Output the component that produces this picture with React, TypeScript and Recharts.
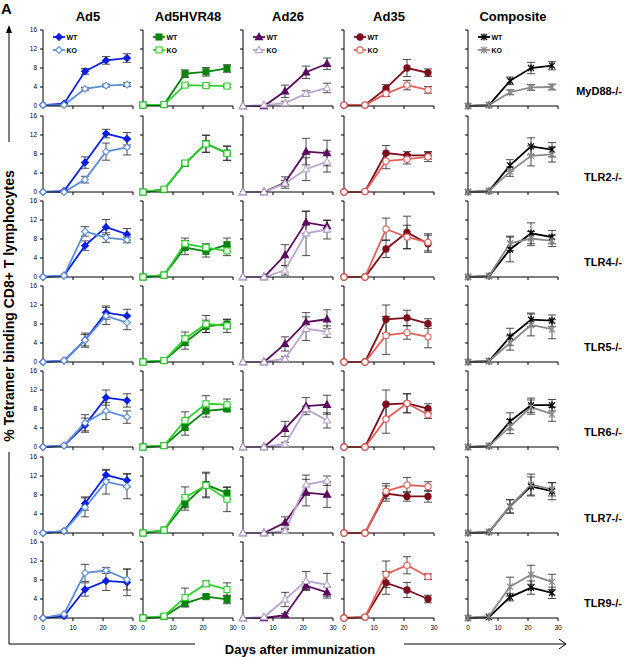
import { LineChart, Line, XAxis, YAxis, ErrorBar } from 'recharts'

const vectors = ['Ad5', 'Ad5HVR48', 'Ad26', 'Ad35', 'Composite']
const knockouts = ['MyD88-/-', 'TLR2-/-', 'TLR4-/-', 'TLR5-/-', 'TLR6-/-', 'TLR7-/-', 'TLR9-/-']
const days = [0, 7, 14, 21, 28]
const xTicks = [0, 10, 20, 30]
const yTicks = [0, 4, 8, 12, 16]

// one row per knockout (same order as `knockouts`), one value per day
const ad5WT = [
  [0.2, 0.5, 7.3, 9.6, 10.1],
  [0, 0.2, 6.2, 12.3, 11.2],
  [0, 0.3, 6.6, 10.5, 9.0],
  [0, 0.3, 4.6, 10.4, 9.7],
  [0, 0.3, 4.6, 10.4, 9.8],
  [0, 0.4, 6.2, 12.2, 11.1],
  [0, 0.4, 6.0, 7.8, 7.5],
]
const ad5WTErr = [
  [0, 0, 0.6, 0.8, 0.9],
  [0, 0, 1.2, 0.9, 1.3],
  [0, 0, 1.0, 1.6, 1.2],
  [0, 0, 1.2, 1.4, 1.4],
  [0, 0, 1.5, 1.6, 1.4],
  [0, 0, 1.4, 1.0, 1.4],
  [0, 0, 1.4, 2.0, 2.8],
]
const ad5KO = [
  [0.2, 0.2, 3.6, 4.3, 4.5],
  [0, 0, 2.6, 8.5, 9.4],
  [0, 0.3, 9.6, 8.3, 7.8],
  [0, 0.3, 4.6, 9.7, 8.3],
  [0, 0.3, 5.1, 7.6, 6.3],
  [0, 0.4, 5.4, 10.8, 9.8],
  [0, 0.8, 9.5, 10.0, 8.1],
]
const ad5KOErr = [
  [0, 0, 0.3, 0.3, 0.4],
  [0, 0, 0.7, 1.8, 1.6],
  [0, 0, 1.0, 1.0, 0.6],
  [0, 0, 1.5, 1.8, 1.5],
  [0, 0, 1.7, 1.8, 1.3],
  [0, 0, 2.0, 2.6, 2.6],
  [0, 0, 1.8, 0.6, 2.2],
]
const hvrWT = [
  [0.2, 0.3, 6.8, 7.2, 7.9],
  [0, 0.5, 6.0, 10.2, 8.2],
  [0, 0.4, 6.2, 5.4, 6.8],
  [0, 0.3, 4.1, 7.5, 8.0],
  [0, 0.3, 4.1, 7.6, 8.0],
  [0, 0.6, 6.2, 10.2, 8.4],
  [0, 0.3, 3.1, 4.5, 3.9],
]
const hvrWTErr = [
  [0, 0, 0.8, 0.9, 0.8],
  [0, 0, 0.5, 1.8, 1.5],
  [0, 0, 1.5, 1.2, 1.4],
  [0, 0, 1.4, 1.3, 1.0],
  [0, 0, 1.6, 1.3, 0.4],
  [0, 0, 1.4, 2.6, 1.2],
  [0, 0, 0.6, 0.4, 0.9],
]
const hvrKO = [
  [0.2, 0.3, 4.4, 4.3, 4.2],
  [0, 0.6, 6.1, 10.1, 8.1],
  [0, 0.4, 7.0, 6.2, 5.5],
  [0, 0.3, 4.9, 8.0, 7.6],
  [0, 0.3, 5.6, 9.1, 8.9],
  [0, 0.6, 7.5, 10.0, 7.1],
  [0, 0.4, 4.3, 7.2, 6.0],
]
const hvrKOErr = [
  [0, 0, 0.3, 0.3, 0.3],
  [0, 0, 0.5, 1.8, 1.5],
  [0, 0, 1.2, 0.8, 1.0],
  [0, 0, 1.4, 1.8, 1.4],
  [0, 0, 1.8, 1.7, 1.2],
  [0, 0, 2.2, 2.6, 2.6],
  [0, 0, 2.0, 0.6, 1.4],
]
const ad26WT = [
  [0, 0, 3.1, 7.1, 8.9],
  [0, 0, 2.0, 8.5, 8.2],
  [0, 0, 4.6, 11.5, 10.7],
  [0, 0, 3.8, 8.4, 9.0],
  [0, 0, 3.8, 8.6, 8.9],
  [0, 0, 2.2, 8.5, 8.1],
  [0, 0, 0.6, 6.8, 5.4],
]
const ad26WTErr = [
  [0, 0, 1.3, 1.3, 1.2],
  [0, 0, 1.2, 2.8, 2.7],
  [0, 0, 2.2, 2.3, 1.2],
  [0, 0, 1.5, 2.0, 2.0],
  [0, 0, 1.6, 1.8, 2.0],
  [0, 0, 1.2, 2.8, 2.7],
  [0, 0, 0.4, 0.8, 1.2],
]
const ad26KO = [
  [0, 0.2, 0.6, 2.6, 3.8],
  [0, 0, 1.8, 4.8, 6.4],
  [0, 0, 1.4, 9.2, 10.0],
  [0, 0, 0.7, 7.0, 6.4],
  [0, 0, 0.6, 8.0, 5.6],
  [0, 0, 0.4, 10.2, 11.0],
  [0, 0.2, 3.9, 7.8, 7.0],
]
const ad26KOErr = [
  [0, 0, 0.4, 0.6, 1.0],
  [0, 0, 0.6, 2.4, 2.2],
  [0, 0, 1.0, 4.7, 2.0],
  [0, 0, 0.4, 2.5, 1.2],
  [0, 0, 0.4, 0.6, 1.6],
  [0, 0, 0.3, 2.0, 1.0],
  [0, 0, 1.5, 2.0, 2.4],
]
const ad35WT = [
  [0.2, 0.2, 3.7, 8.0, 7.0],
  [0, 0.1, 8.2, 7.7, 7.7],
  [0, 0, 5.9, 9.4, 7.0],
  [0, 0, 9.0, 9.3, 8.1],
  [0, 0, 9.0, 9.2, 8.1],
  [0, 0, 8.3, 7.7, 7.7],
  [0, 0.2, 7.4, 5.9, 4.0],
]
const ad35WTErr = [
  [0, 0, 0.8, 1.8, 0.8],
  [0, 0, 1.6, 0.8, 0.8],
  [0, 0, 1.8, 3.4, 1.8],
  [0, 0, 3.0, 1.6, 1.0],
  [0, 0, 3.0, 2.0, 1.0],
  [0, 0, 1.6, 1.0, 1.2],
  [0, 0, 2.4, 1.6, 0.8],
]
const ad35KO = [
  [0.2, 0.2, 2.6, 4.4, 3.4],
  [0, 0.1, 6.5, 6.9, 7.4],
  [0, 0, 10.1, 8.4, 7.3],
  [0, 0, 5.6, 6.2, 5.3],
  [0, 0, 5.9, 9.2, 6.8],
  [0, 0, 8.8, 10.1, 9.8],
  [0, 0.2, 9.2, 11.1, 8.7],
]
const ad35KOErr = [
  [0, 0, 0.6, 1.0, 0.7],
  [0, 0, 1.6, 1.0, 1.0],
  [0, 0, 2.3, 2.5, 1.8],
  [0, 0, 4.0, 1.4, 2.3],
  [0, 0, 3.0, 2.0, 0.8],
  [0, 0, 1.6, 1.6, 1.0],
  [0, 0, 2.8, 1.8, 0.6],
]
const compWT = [
  [0, 0.2, 5.3, 8.0, 8.5],
  [0, 0.2, 5.6, 9.6, 8.9],
  [0, 0.2, 5.8, 9.2, 8.4],
  [0, 0.2, 5.3, 8.9, 8.7],
  [0, 0.2, 5.4, 8.8, 8.8],
  [0, 0.2, 5.6, 9.8, 8.8],
  [0, 0.2, 4.4, 6.4, 5.3],
]
const compWTErr = [
  [0, 0, 0.8, 1.2, 0.9],
  [0, 0, 1.2, 1.8, 1.5],
  [0, 0, 2.6, 2.2, 1.4],
  [0, 0, 1.8, 1.4, 1.2],
  [0, 0, 1.8, 1.5, 1.2],
  [0, 0, 1.4, 2.0, 1.8],
  [0, 0, 0.8, 1.4, 1.2],
]
const compKO = [
  [0, 0.2, 2.9, 3.9, 4.0],
  [0, 0.2, 4.3, 7.6, 7.9],
  [0, 0.2, 7.1, 8.1, 7.6],
  [0, 0.2, 4.0, 7.8, 6.9],
  [0, 0.2, 4.3, 8.4, 6.9],
  [0, 0.2, 5.6, 10.2, 9.2],
  [0, 0.4, 6.6, 9.1, 7.6],
]
const compKOErr = [
  [0, 0, 0.5, 0.6, 0.6],
  [0, 0, 1.0, 2.1, 1.6],
  [0, 0, 1.5, 1.5, 1.2],
  [0, 0, 1.5, 2.3, 2.0],
  [0, 0, 1.5, 1.5, 1.5],
  [0, 0, 1.4, 2.2, 1.4],
  [0, 0, 2.0, 2.0, 1.6],
]

const FONT = '"Liberation Sans", Arial, sans-serif'

const series = [
  { wt: ad5WT, wtErr: ad5WTErr, ko: ad5KO, koErr: ad5KOErr, wtColor: '#0a1fe0', koColor: '#5b8dd6', shape: 'diamond' },
  { wt: hvrWT, wtErr: hvrWTErr, ko: hvrKO, koErr: hvrKOErr, wtColor: '#0b840f', koColor: '#2fd12f', shape: 'square' },
  { wt: ad26WT, wtErr: ad26WTErr, ko: ad26KO, koErr: ad26KOErr, wtColor: '#5a0b5e', koColor: '#b8a5d0', shape: 'triangle' },
  { wt: ad35WT, wtErr: ad35WTErr, ko: ad35KO, koErr: ad35KOErr, wtColor: '#7d0f1c', koColor: '#e4605a', shape: 'circle' },
  { wt: compWT, wtErr: compWTErr, ko: compKO, koErr: compKOErr, wtColor: '#000000', koColor: '#8a8a8a', shape: 'star' },
]

// panel geometry (page pixels)
const colX = [43, 143, 243, 344, 468]
const rowZero = [106, 192, 277, 362, 447, 533, 618]
const PW = 90
const PH = 76
const ML = 24
const MT = 8
const MR = 8
const MB = 18

function Marker({ shape, cx, cy, color, filled }: any) {
  const fill = filled ? color : '#ffffff'
  if (shape === 'diamond') {
    const r = 3.4
    return <polygon points={`${cx},${cy - r} ${cx + r},${cy} ${cx},${cy + r} ${cx - r},${cy}`} fill={fill} stroke={color} strokeWidth={1.1} />
  }
  if (shape === 'square') {
    return <rect x={cx - 3} y={cy - 3} width={6} height={6} fill={fill} stroke={color} strokeWidth={1.1} />
  }
  if (shape === 'triangle') {
    return <polygon points={`${cx},${cy - 3.8} ${cx + 3.6},${cy + 2.6} ${cx - 3.6},${cy + 2.6}`} fill={fill} stroke={color} strokeWidth={1.1} />
  }
  if (shape === 'circle') {
    return <circle cx={cx} cy={cy} r={3.1} fill={fill} stroke={color} strokeWidth={1.1} />
  }
  const r = 3
  return (
    <g stroke={color} strokeWidth={1.3}>
      <line x1={cx - r} y1={cy - r} x2={cx + r} y2={cy + r} />
      <line x1={cx + r} y1={cy - r} x2={cx - r} y2={cy + r} />
      <line x1={cx} y1={cy - r - 0.6} x2={cx} y2={cy + r + 0.6} />
    </g>
  )
}

const makeDot = (shape: string, color: string, filled: boolean) => (props: any) => {
  const { cx, cy, index } = props
  if (cx == null || cy == null) return <g key={`d-${index}`} />
  return (
    <g key={`d-${index}`}>
      <Marker shape={shape} cx={cx} cy={cy} color={color} filled={filled} />
    </g>
  )
}

function Panel({ row, col }: { row: number; col: number }) {
  const s = series[col]
  const data = days.map((day, i) => ({
    day,
    wt: s.wt[row][i],
    wtErr: s.wtErr[row][i],
    ko: s.ko[row][i],
    koErr: s.koErr[row][i],
  }))
  const showY = col === 0
  const showX = row === knockouts.length - 1
  const tickStyle = { fontSize: 6.5, fill: '#000', fontFamily: FONT }
  return (
    <div style={{ position: 'absolute', left: colX[col] - ML, top: rowZero[row] - PH - MT }}>
      <LineChart width={ML + PW + MR} height={MT + PH + MB} data={data} margin={{ top: MT, right: MR, bottom: 0, left: 0 }}>
        <XAxis
          dataKey='day'
          type='number'
          domain={[0, 30]}
          ticks={xTicks}
          interval={0}
          height={MB}
          tickSize={3}
          tickMargin={4}
          tick={tickStyle}
          tickFormatter={(v) => (showX ? String(v) : '')}
          stroke='#000'
        />
        <YAxis
          type='number'
          domain={[0, 16]}
          ticks={yTicks}
          interval={0}
          width={ML}
          tickSize={3}
          tickMargin={3}
          tick={tickStyle}
          tickFormatter={(v) => (showY ? String(v) : '')}
          stroke='#000'
        />
        <Line
          dataKey='wt'
          type='linear'
          stroke={s.wtColor}
          strokeWidth={1.8}
          dot={makeDot(s.shape, s.wtColor, true)}
          activeDot={false}
          isAnimationActive={false}
        >
          <ErrorBar dataKey='wtErr' direction='y' width={4} stroke='#222' strokeWidth={0.8} isAnimationActive={false} />
        </Line>
        <Line
          dataKey='ko'
          type='linear'
          stroke={s.koColor}
          strokeWidth={1.8}
          dot={makeDot(s.shape, s.koColor, false)}
          activeDot={false}
          isAnimationActive={false}
        >
          <ErrorBar dataKey='koErr' direction='y' width={4} stroke='#222' strokeWidth={0.8} isAnimationActive={false} />
        </Line>
      </LineChart>
    </div>
  )
}

function LegendBox({ col }: { col: number }) {
  const s = series[col]
  const items = [
    { label: 'WT', color: s.wtColor, filled: true, y: 10 },
    { label: 'KO', color: s.koColor, filled: false, y: 23 },
  ]
  return (
    <svg style={{ position: 'absolute', left: colX[col], top: 27 }} width={40} height={30}>
      {items.map((it) => (
        <g key={it.label}>
          <line x1={10} y1={it.y} x2={22} y2={it.y} stroke={it.color} strokeWidth={1.8} />
          <Marker shape={s.shape} cx={16} cy={it.y} color={it.color} filled={it.filled} />
          <text x={23.5} y={it.y + 2.6} fontSize={7} fontWeight='bold' fontFamily={FONT} fill='#000'>
            {it.label}
          </text>
        </g>
      ))}
    </svg>
  )
}

export default function App() {
  return (
    <div style={{ position: 'absolute', left: 0, top: 0, width: 624, height: 657, background: '#fff', fontFamily: FONT }}>
      <svg style={{ position: 'absolute', left: 0, top: 0 }} width={624} height={657}>
        <text x={1} y={14} fontSize={15} fontWeight='bold' fontFamily={FONT}>A</text>
        {vectors.map((v, c) => (
          <text key={v} x={colX[c] + PW / 2} y={21} textAnchor='middle' fontSize={13} fontWeight='bold' fontFamily={FONT}>
            {v}
          </text>
        ))}
        {knockouts.map((k, r) => (
          <text key={k} x={622} y={rowZero[r] - 11} textAnchor='end' fontSize={11} fontWeight='bold' fontFamily={FONT}>
            {k}
          </text>
        ))}
        {/* y axis title with arrow */}
        <line x1={9} y1={30} x2={9} y2={142} stroke='#000' strokeWidth={1} />
        <polygon points='9,25 6,33 12,33' fill='#000' />
        <text
          x={0}
          y={0}
          transform='translate(14,306) rotate(-90)'
          textAnchor='middle'
          fontSize={14}
          fontWeight='bold'
          fontFamily={FONT}
        >
          % Tetramer binding CD8+ T lymphocytes
        </text>
        <line x1={9} y1={452} x2={9} y2={644} stroke='#000' strokeWidth={1} />
        {/* x axis title with arrow */}
        <line x1={9} y1={644} x2={195} y2={644} stroke='#000' strokeWidth={1} />
        <text x={300} y={654} textAnchor='middle' fontSize={13} fontWeight='bold' fontFamily={FONT}>
          Days after immunization
        </text>
        <line x1={404} y1={644} x2={566} y2={644} stroke='#000' strokeWidth={1} />
        <polyline points='559,639 566,644 559,649' fill='none' stroke='#000' strokeWidth={1} />
      </svg>
      {knockouts.map((k, r) => vectors.map((v, c) => <Panel key={`${k}-${v}`} row={r} col={c} />))}
      {vectors.map((v, c) => <LegendBox key={`lg-${v}`} col={c} />)}
    </div>
  )
}
